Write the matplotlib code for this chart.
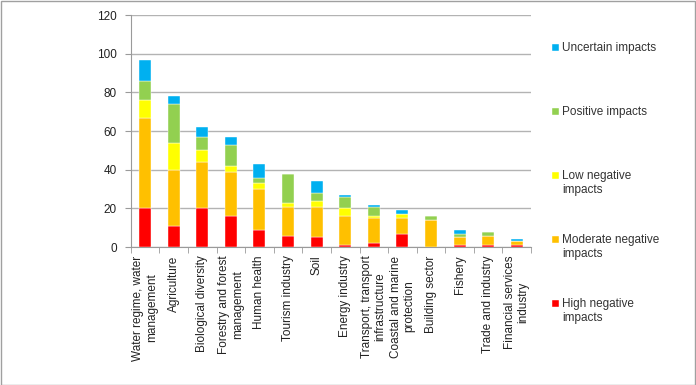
import matplotlib.pyplot as plt
import numpy as np
from matplotlib.patches import Rectangle

plt.rcParams["font.family"] = ["Liberation Sans", "DejaVu Sans"]

# sectors, left to right
sectors = [
    "Water regime, water\nmanagement",
    "Agriculture",
    "Biological diversity",
    "Forestry and forest\nmanagement",
    "Human health",
    "Tourism industry",
    "Soil",
    "Energy industry",
    "Transport, transport\ninfrastructure",
    "Coastal and marine\nprotection",
    "Building sector",
    "Fishery",
    "Trade and industry",
    "Financial services\nindustry",
]

# stacked counts, bottom to top
high_neg = [20, 11, 20, 16, 9, 6, 5, 1, 2, 7, 0, 1, 1, 1]
moderate_neg = [47, 29, 24, 23, 21, 15, 16, 15, 13, 8, 14, 4, 5, 2]
low_neg = [9, 14, 6, 3, 3, 2, 3, 4, 1, 2, 0, 0, 0, 0]
positive = [10, 20, 7, 11, 3, 15, 4, 6, 5, 0, 2, 2, 2, 0]
uncertain = [11, 4, 5, 4, 7, 0, 6, 1, 1, 2, 0, 2, 0, 1]

series = [
    ("High negative\nimpacts", high_neg, "#ff0000"),
    ("Moderate negative\nimpacts", moderate_neg, "#ffc000"),
    ("Low negative\nimpacts", low_neg, "#ffff00"),
    ("Positive impacts", positive, "#92d050"),
    ("Uncertain impacts", uncertain, "#00b0f0"),
]

fig = plt.figure(figsize=(6.96, 3.85), dpi=100)
ax = fig.add_axes([0.188, 0.358, 0.575, 0.603])

x = np.arange(len(sectors))
bottom = np.zeros(len(sectors))
bars = []
for label, vals, color in series:
    b = ax.bar(x, vals, 0.42, bottom=bottom, color=color, label=label,
               edgecolor="white", linewidth=0.3, zorder=3)
    bars.append(b)
    bottom += np.array(vals)

ax.set_xlim(-0.5, len(sectors) - 0.5)
ax.set_ylim(0, 120)
ax.set_yticks(range(0, 121, 20))
ax.yaxis.grid(True, color="#b3b3b3", linewidth=1, zorder=0)

for side in ["top", "right"]:
    ax.spines[side].set_visible(False)
ax.spines["left"].set_color("#9a9a9a")
ax.spines["bottom"].set_color("#9a9a9a")

ax.set_xticks(x)
ax.set_xticklabels(sectors, rotation=90, ha="center", va="top",
                   multialignment="center", fontsize=8.5, color="#222222")
ax.tick_params(axis="x", length=0, pad=6)
ax.set_xticks(np.arange(-0.5, len(sectors)), minor=True)
ax.tick_params(axis="x", which="minor", length=4, color="#9a9a9a")
ax.tick_params(axis="y", length=4, color="#9a9a9a", labelsize=8.5,
               labelcolor="#222222", pad=6)

# legend: first line of each label in the legend, wrapped part added below
handles = bars[::-1]
names = [s[0] for s in series][::-1]
first = [n.split("\n")[0] for n in names]
leg = fig.legend(handles, first, loc="upper left",
                 bbox_to_anchor=(0.785, 0.905), frameon=False,
                 fontsize=8.5, labelspacing=4.4, handlelength=0.55,
                 handleheight=0.55, handletextpad=0.3, borderpad=0)
fig.canvas.draw()
W, H = fig.bbox.width, fig.bbox.height
for t, n in zip(leg.get_texts(), names):
    t.set_color("#333333")
    rest = n.split("\n")[1:]
    if rest:
        bb = t.get_window_extent()
        fig.text(bb.x0 / W, (bb.y0 - 2) / H, "\n".join(rest), fontsize=8.5,
                 color="#333333", ha="left", va="top")

fig.patches.append(Rectangle((0.001, 0.001), 0.997, 0.996, transform=fig.transFigure,
                             fill=False, edgecolor="#a0a0a0", linewidth=1))

fig.savefig("out.png", dpi=100)
